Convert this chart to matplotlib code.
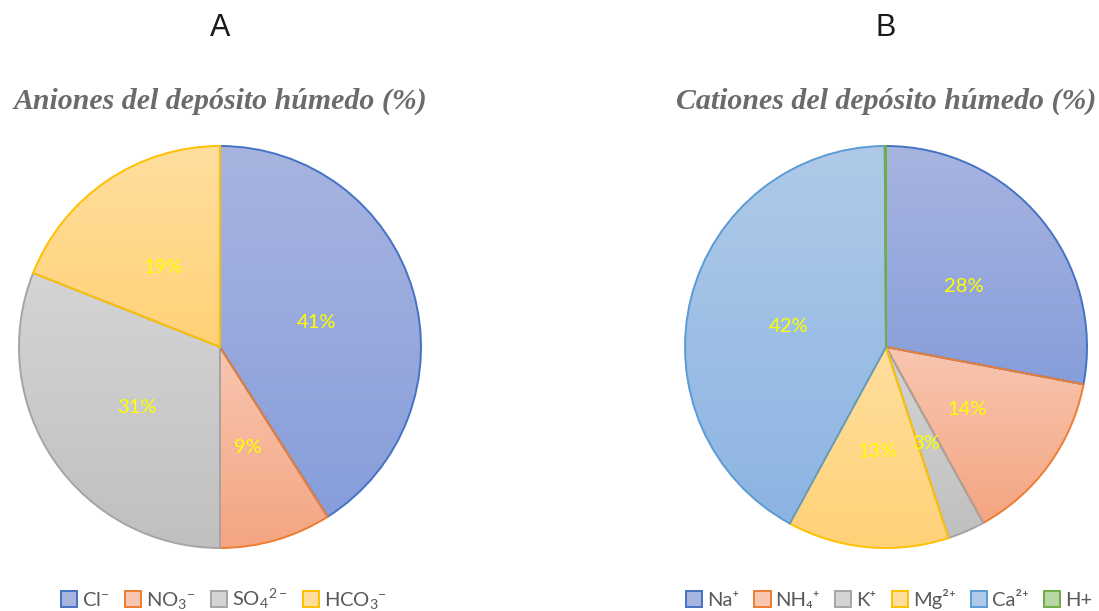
import matplotlib
matplotlib.use("Agg")
import matplotlib.pyplot as plt
import numpy as np
from matplotlib.patches import Patch

# datos de los dos graficos
aniones = [r"Cl$^{-}$", r"NO$_3{}^{-}$", r"SO$_4{}^{2-}$", r"HCO$_3{}^{-}$"]
aniones_pct = [41, 9, 31, 19]

cationes = ["Na⁺", "NH₄⁺", "K⁺", "Mg²⁺", "Ca²⁺", "H+"]
cationes_pct = [28, 14, 3, 13, 42, 0.1]

# colores: borde, arriba (claro), abajo (oscuro)
borde = {"azul": "#4472C4", "naranja": "#ED7D31", "gris": "#A5A5A5",
         "oro": "#FFC000", "celeste": "#5B9BD5", "verde": "#70AD47"}
arriba = {"azul": (168, 180, 224), "naranja": (248, 198, 176), "gris": (212, 212, 212),
          "oro": (255, 222, 157), "celeste": (175, 202, 232), "verde": (185, 215, 165)}
abajo = {"azul": (135, 158, 218), "naranja": (244, 165, 130), "gris": (192, 192, 192),
         "oro": (255, 210, 120), "celeste": (140, 180, 226), "verde": (150, 200, 125)}

col_aniones = ["azul", "naranja", "gris", "oro"]
col_cationes = ["azul", "naranja", "gris", "oro", "celeste", "verde"]

fuente = ["Lato", "DejaVu Sans"]
plt.rcParams["mathtext.fontset"] = "custom"
plt.rcParams["mathtext.rm"] = "Lato"
plt.rcParams["mathtext.it"] = "Lato"
plt.rcParams["mathtext.bf"] = "Lato"
plt.rcParams["mathtext.default"] = "regular"

W, H = 1099, 611
fig = plt.figure(figsize=(W / 100, H / 100), dpi=100)

R = 201
LIM = 1.05


def tarta(cx, cy, valores, colores, etiquetas, titulo, letra, espacio, leg_x):
    lado = 2 * LIM * R
    ax = fig.add_axes([(cx - LIM * R) / W, (H - cy - LIM * R) / H, lado / W, lado / H])
    wedges, textos = ax.pie(valores, startangle=90, counterclock=False,
                            labels=None, radius=1.0)
    for w, c in zip(wedges, colores):
        w.set_facecolor("none")
        w.set_edgecolor(borde[c])
        w.set_linewidth(1.4)
        w.set_zorder(3)
        # degradado vertical dentro de cada porcion
        ext = w.get_path().get_extents()
        top = np.array(arriba[c]) / 255
        bot = np.array(abajo[c]) / 255
        t = np.linspace(0, 1, 64)[:, None]
        grad = top * (1 - t) + bot * t
        img = ax.imshow(grad[:, None, :], extent=[ext.x0, ext.x1, ext.y0, ext.y1],
                        origin="upper", aspect="auto", zorder=2, interpolation="bilinear")
        img.set_clip_path(w)
    # etiquetas de porcentaje
    total = sum(valores)
    ang = 90.0
    for v in valores:
        mid = ang - 360 * v / total / 2
        ang -= 360 * v / total
        if v < 1:
            continue
        r = 0.5
        ax.text(r * np.cos(np.radians(mid)), r * np.sin(np.radians(mid)) - 0.02, f"{v:.0f}%",
                ha="center", va="center", color="#FFFF00", fontsize=14.5,
                family=fuente, zorder=5)
    ax.set_xlim(-LIM, LIM)
    ax.set_ylim(-LIM, LIM)
    ax.set_aspect("equal")
    ax.axis("off")

    fig.text(cx / W, 1 - 28 / H, letra, ha="center", va="center", fontsize=22,
             color="#1a1a1a", family="Liberation Sans")
    fig.text(cx / W, 1 - 101 / H, titulo, ha="center", va="center", fontsize=21.5,
             color="#6b6b6b", family="Liberation Serif", fontweight="bold", style="italic")

    handles = [Patch(facecolor=np.array(arriba[c]) / 255, edgecolor=borde[c], linewidth=1.4,
                     label=e) for c, e in zip(colores, etiquetas)]
    fig.legend(handles=handles, loc="center", bbox_to_anchor=(leg_x / W, 1 - 599 / H),
               ncol=len(handles), frameon=False, handlelength=0.8, handleheight=0.8,
               handletextpad=0.25, columnspacing=espacio,
               prop={"family": fuente, "size": 14.5}, labelcolor="#595959")


tarta(220, 347, aniones_pct, col_aniones, aniones, "Aniones del depósito húmedo (%)", "A",
      0.75, 224)
tarta(886, 347, cationes_pct, col_cationes, cationes, "Cationes del depósito húmedo (%)", "B",
      0.75, 889)

fig.savefig("out.png", dpi=100)
